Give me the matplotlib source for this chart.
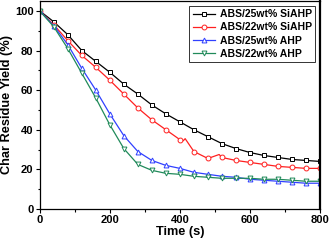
import matplotlib
matplotlib.use('Agg')
import matplotlib.pyplot as plt
from matplotlib.ticker import MultipleLocator

plt.rcParams['font.family'] = ['Liberation Sans', 'DejaVu Sans']
plt.rcParams['font.weight'] = 'bold'

# Data
t_marks = [0, 40, 80, 120, 160, 200, 240, 280, 320, 360, 400, 440, 480, 520,
           560, 600, 640, 680, 720, 760, 800]
si25 = [100, 94.5, 88, 80, 74.5, 69, 63, 58, 52.5, 48, 44, 40, 36.5, 33,
        30.5, 28.5, 27, 26, 25, 24.5, 24]
# red curve has small kinks between markers
t_si22 = [0, 40, 80, 120, 160, 200, 240, 280, 320, 360, 400, 410, 415, 440, 480,
          512, 520, 560, 600, 640, 680, 720, 760, 800]
si22 = [100, 93, 85, 77.5, 71.5, 65, 58, 51, 45, 40, 35, 34.5, 35.5, 29, 25.5,
        27.5, 26, 24.5, 23.5, 22.5, 21.5, 21, 20.5, 20.5]
si22_marks = [i for i, t in enumerate(t_si22) if t % 40 == 0]
ahp25 = [100, 92.5, 83, 71, 60, 48, 37, 29, 24.5, 22, 20.5, 18.5, 17.5, 16.5,
         16, 15, 14.5, 14, 13.5, 13, 13]
ahp22 = [100, 92, 81, 68.5, 56, 42.5, 30.5, 22.5, 19.5, 18, 17.5, 16.5, 16, 15.5,
         15.5, 15.5, 15, 15, 14.5, 14, 14]

fig = plt.figure(figsize=(3.31, 2.45), dpi=100)
ax = fig.add_axes([0.120, 0.147, 0.847, 0.849])

kw = dict(linewidth=0.9, markersize=3.5, markerfacecolor='white', markeredgewidth=0.7)
ax.plot(t_marks, si25, color='black', marker='s', label='ABS/25wt% SiAHP', **kw)
ax.plot(t_si22, si22, color='#ff2020', marker='o', markevery=si22_marks,
        label='ABS/22wt% SiAHP', **kw)
ax.plot(t_marks, ahp25, color='#3040ff', marker='^', label='ABS/25wt% AHP', **kw)
ax.plot(t_marks, ahp22, color='#208a5a', marker='v', label='ABS/22wt% AHP', **kw)

ax.set_xlim(0, 800)
ax.set_ylim(0, 105)
ax.xaxis.set_major_locator(MultipleLocator(200))
ax.xaxis.set_minor_locator(MultipleLocator(100))
ax.yaxis.set_major_locator(MultipleLocator(20))
ax.yaxis.set_minor_locator(MultipleLocator(10))
ax.tick_params(which='both', direction='out', top=False, right=False,
               labelsize=8, pad=1.5)
ax.tick_params(which='major', length=3, width=0.8)
ax.tick_params(which='minor', length=1.8, width=0.8)
for s in ax.spines.values():
    s.set_linewidth(0.9)
ax.spines['right'].set_linewidth(1.6)

ax.set_xlabel('Time (s)', fontsize=9.2, fontweight='bold', labelpad=0.5)
ax.set_ylabel('Char Residue Yield (%)', fontsize=9.2, fontweight='bold', labelpad=1)

leg = ax.legend(loc='upper right', fontsize=7.5, frameon=True, fancybox=False,
                edgecolor='black', handlelength=2.2, handletextpad=0.4,
                borderpad=0.3, labelspacing=0.3, borderaxespad=0.5)
leg.get_frame().set_linewidth(0.7)

fig.savefig('out.png', dpi=100)
